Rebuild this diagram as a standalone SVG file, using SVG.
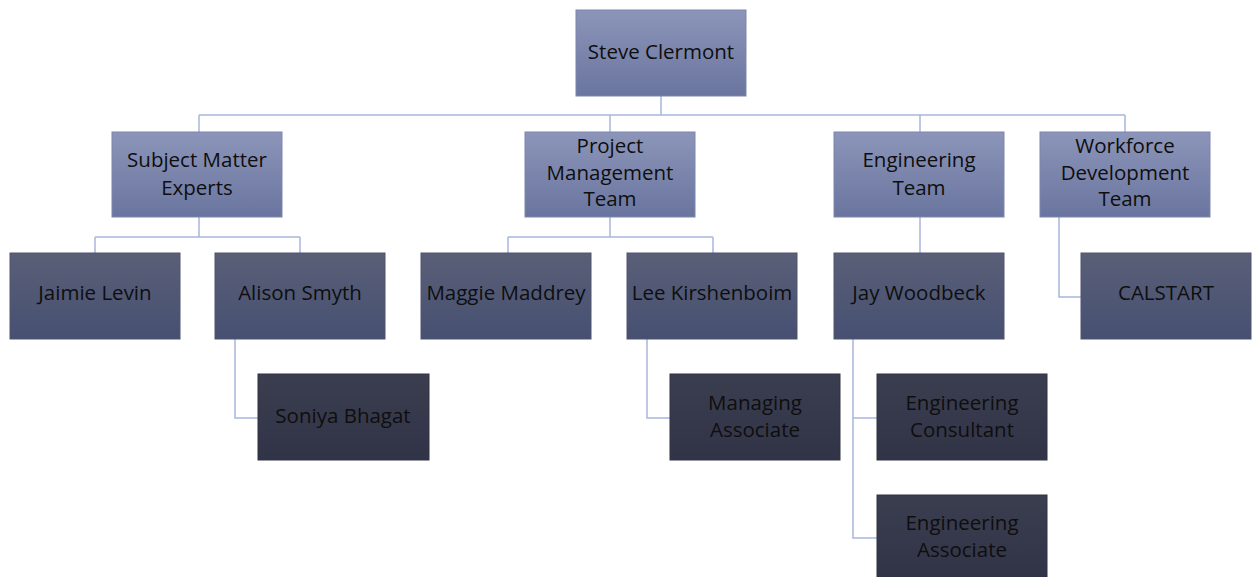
<svg xmlns="http://www.w3.org/2000/svg" width="1252" height="577" viewBox="0 0 1252 577">
<defs>
<linearGradient id="g1" x1="0" y1="0" x2="0" y2="1"><stop offset="0" stop-color="#8c95b9"/><stop offset="1" stop-color="#6a759f"/></linearGradient>
<linearGradient id="g2" x1="0" y1="0" x2="0" y2="1"><stop offset="0" stop-color="#5a5f77"/><stop offset="1" stop-color="#465072"/></linearGradient>
<linearGradient id="g3" x1="0" y1="0" x2="0" y2="1"><stop offset="0" stop-color="#3b3e4f"/><stop offset="1" stop-color="#313447"/></linearGradient>
<style>
.l1{fill:url(#g1);stroke:#7d86ac;stroke-width:1}
.l2{fill:url(#g2);stroke:#50556e;stroke-width:1}
.l3{fill:url(#g3);stroke:#303343;stroke-width:1}
text{font-family:"Open Sans","Liberation Sans",sans-serif;font-size:20.5px;fill:#0e0e0e;text-anchor:middle}
.c{fill:none;stroke:#a8b6db;stroke-width:1.5}
</style>
</defs>
<rect width="1252" height="577" fill="#ffffff"/>
<g id="connectors">
<path class="c" d="M661 96V115M199 115H1125M199 115V132M610 115V132M920 115V132M1125 115V132"/>
<path class="c" d="M199 217V237M95 237H300M95 237V253M300 237V253"/>
<path class="c" d="M610 217V237M508 237H713M508 237V253M713 237V253"/>
<path class="c" d="M920 217V253"/>
<path class="c" d="M1059 217V297H1081"/>
<path class="c" d="M235 339V418H258"/>
<path class="c" d="M647 339V418H670"/>
<path class="c" d="M853 339V538H877M853 418H877"/>
</g>
<g id="steve"><rect class="l1" x="576" y="10" width="170" height="86"/><text x="661" y="59">Steve Clermont</text></g>
<g id="sme"><rect class="l1" x="112" y="132" width="170" height="85"/><text x="197" y="167">Subject Matter</text><text x="197" y="195">Experts</text></g>
<g id="pmt"><rect class="l1" x="525" y="132" width="170" height="85"/><text x="610" y="153">Project</text><text x="610" y="180">Management</text><text x="610" y="206">Team</text></g>
<g id="eng"><rect class="l1" x="834" y="132" width="170" height="85"/><text x="919" y="167">Engineering</text><text x="919" y="195">Team</text></g>
<g id="wdt"><rect class="l1" x="1040" y="132" width="170" height="85"/><text x="1125" y="153">Workforce</text><text x="1125" y="180">Development</text><text x="1125" y="206">Team</text></g>
<g id="jaimie"><rect class="l2" x="10" y="253" width="170" height="86"/><text x="95" y="300">Jaimie Levin</text></g>
<g id="alison"><rect class="l2" x="215" y="253" width="170" height="86"/><text x="300" y="300">Alison Smyth</text></g>
<g id="maggie"><rect class="l2" x="421" y="253" width="170" height="86"/><text x="506" y="300">Maggie Maddrey</text></g>
<g id="lee"><rect class="l2" x="627" y="253" width="170" height="86"/><text x="712" y="300">Lee Kirshenboim</text></g>
<g id="jay"><rect class="l2" x="834" y="253" width="170" height="86"/><text x="919" y="300">Jay Woodbeck</text></g>
<g id="calstart"><rect class="l2" x="1081" y="253" width="170" height="86"/><text x="1166" y="300">CALSTART</text></g>
<g id="soniya"><rect class="l3" x="258" y="374" width="171" height="86"/><text x="343" y="423">Soniya Bhagat</text></g>
<g id="managing"><rect class="l3" x="670" y="374" width="170" height="86"/><text x="755" y="410">Managing</text><text x="755" y="437">Associate</text></g>
<g id="engcons"><rect class="l3" x="877" y="374" width="170" height="86"/><text x="962" y="410">Engineering</text><text x="962" y="437">Consultant</text></g>
<g id="engassoc"><rect class="l3" x="877" y="495" width="170" height="82"/><text x="962" y="530">Engineering</text><text x="962" y="557">Associate</text></g>
</svg>
